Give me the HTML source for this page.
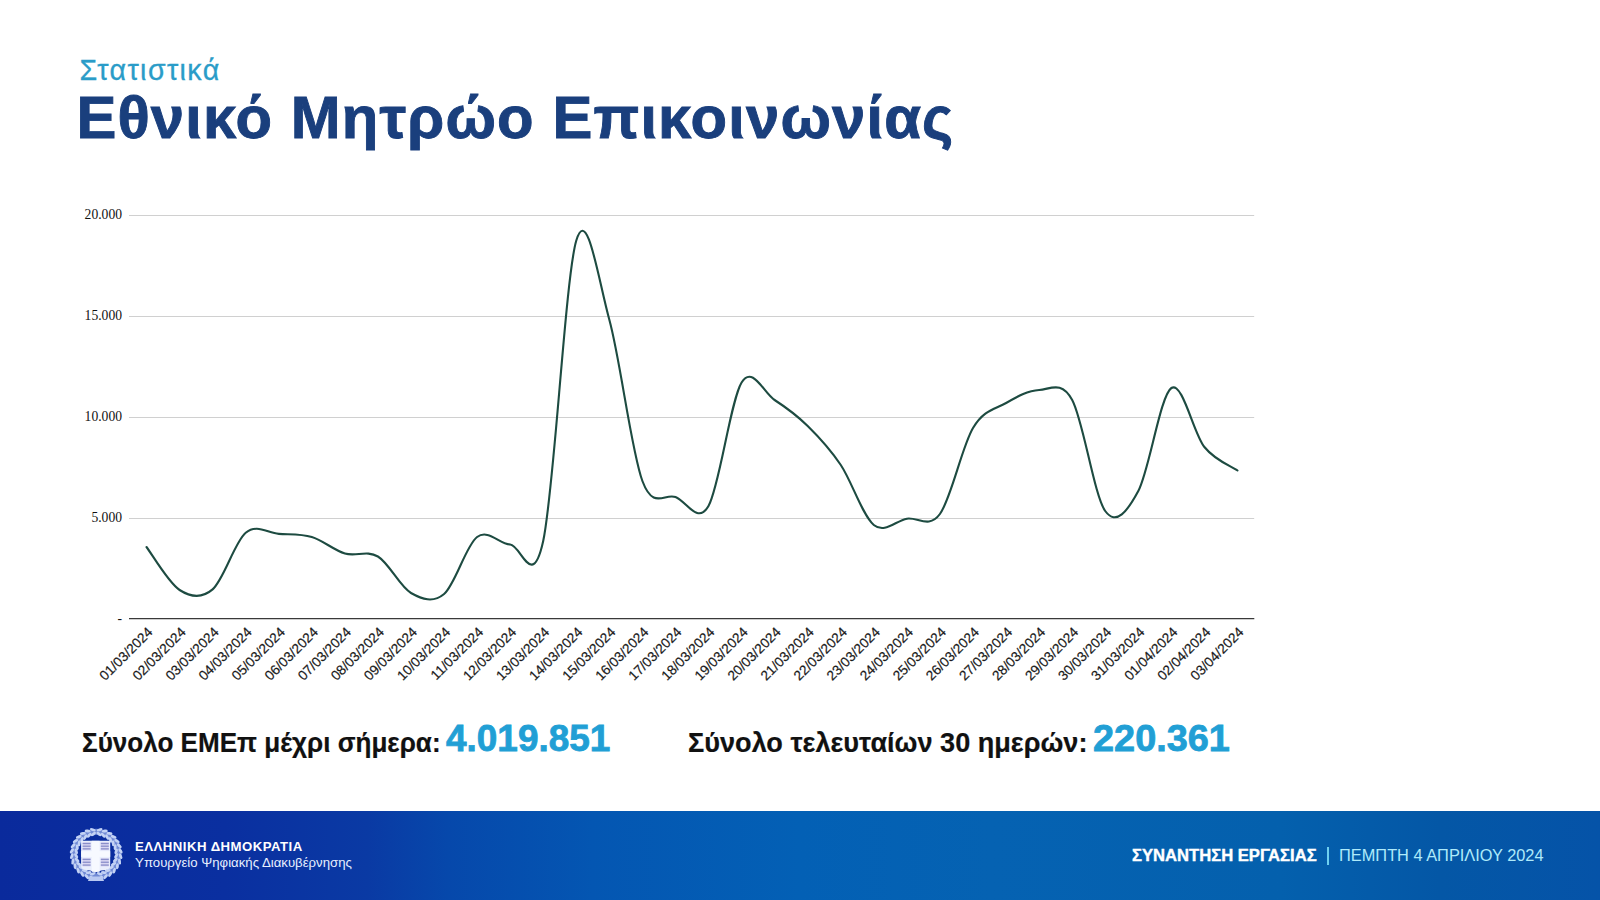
<!DOCTYPE html>
<html><head><meta charset="utf-8">
<style>
*{margin:0;padding:0;box-sizing:border-box}
html,body{width:1600px;height:900px;overflow:hidden;background:#fff}
body{position:relative;font-family:"Liberation Sans",sans-serif}
.t{position:absolute;white-space:nowrap;line-height:1;transform-origin:0 0}
#sub{color:#2a9cc8;-webkit-text-stroke:0.3px #2a9cc8}
#title{font-weight:bold;color:#1a3f7d;-webkit-text-stroke:0.9px #1a3f7d}
svg{position:absolute;left:0;top:0}
.g{stroke:#d0d0d0;stroke-width:1}
.yl{font-family:"Liberation Serif",serif;font-size:13.6px;fill:#111;text-anchor:end}
.xl text{font-size:13.7px;fill:#1a1a1a;stroke:#1a1a1a;stroke-width:0.2;text-anchor:end}
#s1,#s2{font-weight:bold;color:#111;-webkit-text-stroke:0.2px #111}
#n1,#n2{font-weight:bold;color:#219fd5;-webkit-text-stroke:0.8px #219fd5}
#foot{position:absolute;left:0;top:811px;width:1600px;height:89px;
background:linear-gradient(90deg,#0a2a9c 0%,#0a2fa0 14%,#0a3aa4 23%,#0648ab 28%,#0456b2 37%,#0360b5 50%,#0562b2 62%,#0460ad 80%,#0457a6 90%,#0553a8 100%)}
#f1{font-weight:bold;color:#fff}
#f2{color:#e8f0ff}
#f3{font-weight:bold;color:#fff;-webkit-text-stroke:0.4px #fff}
#f4{color:#aeeafa}
#sep{position:absolute;left:1327px;top:847px;width:2px;height:18px;background:#6fd0f0}
</style></head><body>
<div class="t" id="sub" style="left:79.50px;top:56.49px;font-size:28.60px;letter-spacing:1.4px;">Στατιστικά</div>
<div class="t" id="title" style="left:76.40px;top:87.88px;font-size:59.80px;letter-spacing:1.13px;">Εθνικό Μητρώο Επικοινωνίας</div>
<svg width="1600" height="810" viewBox="0 0 1600 810">
<line x1="129" y1="215.5" x2="1254.2" y2="215.5" class="g"/><text x="122" y="219.3" class="yl">20.000</text><line x1="129" y1="316.5" x2="1254.2" y2="316.5" class="g"/><text x="122" y="320.3" class="yl">15.000</text><line x1="129" y1="417.5" x2="1254.2" y2="417.5" class="g"/><text x="122" y="421.3" class="yl">10.000</text><line x1="129" y1="518.5" x2="1254.2" y2="518.5" class="g"/><text x="122" y="522.3" class="yl">5.000</text>
<line x1="129" y1="618.6" x2="1254.3" y2="618.6" stroke="#3a3a3a" stroke-width="1.2"/>
<text x="122" y="623" class="yl">-</text>
<path d="M146.5 547.0 C152.0 554.2 168.6 582.9 179.6 590.0 C190.6 597.1 201.6 598.9 212.6 589.4 C223.7 579.9 234.7 542.0 245.7 532.8 C256.7 523.5 267.7 533.2 278.8 533.9 C289.8 534.6 300.8 533.7 311.8 537.0 C322.8 540.3 333.9 550.2 344.9 553.5 C355.9 556.8 366.9 549.9 377.9 556.5 C389.0 563.1 400.0 586.8 411.0 593.0 C422.0 599.2 433.0 603.3 444.1 594.0 C455.1 584.7 466.1 545.2 477.1 537.0 C488.1 528.8 499.2 543.8 510.2 544.5 C521.2 545.2 532.2 591.7 543.2 541.0 C554.3 490.3 565.3 277.3 576.3 240.5 C587.3 203.7 598.3 279.9 609.4 320.0 C620.4 360.1 631.4 451.5 642.4 481.0 C653.4 510.5 664.5 492.8 675.5 497.0 C686.5 501.2 697.5 525.1 708.5 506.0 C719.5 486.9 730.6 400.2 741.6 382.5 C752.6 364.8 763.6 392.8 774.6 400.0 C785.7 407.2 796.7 415.2 807.7 426.0 C818.7 436.8 829.7 448.5 840.8 465.0 C851.8 481.5 862.8 516.0 873.8 525.0 C884.8 534.0 895.9 520.5 906.9 518.7 C917.9 516.9 928.9 529.1 939.9 514.0 C951.0 498.9 962.0 446.5 973.0 428.0 C984.0 409.5 995.0 409.3 1006.1 403.0 C1017.1 396.7 1028.1 390.5 1039.1 390.0 C1050.1 389.5 1061.2 379.8 1072.2 400.0 C1083.2 420.2 1094.2 495.8 1105.2 511.0 C1116.3 526.2 1127.3 511.5 1138.3 491.0 C1149.3 470.5 1160.3 395.3 1171.4 388.0 C1182.4 380.7 1193.4 433.2 1204.4 447.0 C1215.4 460.8 1232.0 466.6 1237.5 470.5" fill="none" stroke="#1d4b41" stroke-width="2.1" stroke-linecap="round"/>
<g class="xl"><text x="153.5" y="632.9" transform="rotate(-45 153.5 632.9)">01/03/2024</text>
<text x="186.6" y="632.9" transform="rotate(-45 186.6 632.9)">02/03/2024</text>
<text x="219.6" y="632.9" transform="rotate(-45 219.6 632.9)">03/03/2024</text>
<text x="252.7" y="632.9" transform="rotate(-45 252.7 632.9)">04/03/2024</text>
<text x="285.8" y="632.9" transform="rotate(-45 285.8 632.9)">05/03/2024</text>
<text x="318.8" y="632.9" transform="rotate(-45 318.8 632.9)">06/03/2024</text>
<text x="351.9" y="632.9" transform="rotate(-45 351.9 632.9)">07/03/2024</text>
<text x="384.9" y="632.9" transform="rotate(-45 384.9 632.9)">08/03/2024</text>
<text x="418.0" y="632.9" transform="rotate(-45 418.0 632.9)">09/03/2024</text>
<text x="451.1" y="632.9" transform="rotate(-45 451.1 632.9)">10/03/2024</text>
<text x="484.1" y="632.9" transform="rotate(-45 484.1 632.9)">11/03/2024</text>
<text x="517.2" y="632.9" transform="rotate(-45 517.2 632.9)">12/03/2024</text>
<text x="550.2" y="632.9" transform="rotate(-45 550.2 632.9)">13/03/2024</text>
<text x="583.3" y="632.9" transform="rotate(-45 583.3 632.9)">14/03/2024</text>
<text x="616.4" y="632.9" transform="rotate(-45 616.4 632.9)">15/03/2024</text>
<text x="649.4" y="632.9" transform="rotate(-45 649.4 632.9)">16/03/2024</text>
<text x="682.5" y="632.9" transform="rotate(-45 682.5 632.9)">17/03/2024</text>
<text x="715.5" y="632.9" transform="rotate(-45 715.5 632.9)">18/03/2024</text>
<text x="748.6" y="632.9" transform="rotate(-45 748.6 632.9)">19/03/2024</text>
<text x="781.6" y="632.9" transform="rotate(-45 781.6 632.9)">20/03/2024</text>
<text x="814.7" y="632.9" transform="rotate(-45 814.7 632.9)">21/03/2024</text>
<text x="847.8" y="632.9" transform="rotate(-45 847.8 632.9)">22/03/2024</text>
<text x="880.8" y="632.9" transform="rotate(-45 880.8 632.9)">23/03/2024</text>
<text x="913.9" y="632.9" transform="rotate(-45 913.9 632.9)">24/03/2024</text>
<text x="946.9" y="632.9" transform="rotate(-45 946.9 632.9)">25/03/2024</text>
<text x="980.0" y="632.9" transform="rotate(-45 980.0 632.9)">26/03/2024</text>
<text x="1013.1" y="632.9" transform="rotate(-45 1013.1 632.9)">27/03/2024</text>
<text x="1046.1" y="632.9" transform="rotate(-45 1046.1 632.9)">28/03/2024</text>
<text x="1079.2" y="632.9" transform="rotate(-45 1079.2 632.9)">29/03/2024</text>
<text x="1112.2" y="632.9" transform="rotate(-45 1112.2 632.9)">30/03/2024</text>
<text x="1145.3" y="632.9" transform="rotate(-45 1145.3 632.9)">31/03/2024</text>
<text x="1178.4" y="632.9" transform="rotate(-45 1178.4 632.9)">01/04/2024</text>
<text x="1211.4" y="632.9" transform="rotate(-45 1211.4 632.9)">02/04/2024</text>
<text x="1244.5" y="632.9" transform="rotate(-45 1244.5 632.9)">03/04/2024</text></g>
</svg>
<div class="t" id="s1" style="left:82.00px;top:727.73px;font-size:28.20px;transform:scaleX(0.9250);">Σύνολο ΕΜΕπ μέχρι σήμερα:</div>
<div class="t" id="n1" style="left:446.00px;top:719.59px;font-size:37.70px;transform:scaleX(0.9800);">4.019.851</div>
<div class="t" id="s2" style="left:688.10px;top:727.93px;font-size:28.20px;transform:scaleX(0.9610);">Σύνολο τελευταίων 30 ημερών:</div>
<div class="t" id="n2" style="left:1093.00px;top:719.79px;font-size:37.70px;transform:scaleX(1.0050);">220.361</div>
<div id="foot"></div>
<svg width="64" height="64" viewBox="64 822 64 64" style="left:64px;top:822px"><circle cx="96.2" cy="854.0" r="22.3" fill="none" stroke="#9db2ec" stroke-width="6" opacity="0.7"/>
<ellipse cx="91.95" cy="878.13" rx="3.0" ry="1.45" transform="rotate(218.0 91.95 878.13)" fill="#c3d2f5"/>
<ellipse cx="92.71" cy="873.79" rx="3.0" ry="1.45" transform="rotate(162.0 92.71 873.79)" fill="#c3d2f5"/>
<ellipse cx="86.84" cy="876.64" rx="3.0" ry="1.45" transform="rotate(230.5 86.84 876.64)" fill="#c3d2f5"/>
<ellipse cx="88.52" cy="872.58" rx="3.0" ry="1.45" transform="rotate(174.5 88.52 872.58)" fill="#c3d2f5"/>
<ellipse cx="82.17" cy="874.09" rx="3.0" ry="1.45" transform="rotate(242.9 82.17 874.09)" fill="#c3d2f5"/>
<ellipse cx="84.69" cy="870.48" rx="3.0" ry="1.45" transform="rotate(186.9 84.69 870.48)" fill="#c3d2f5"/>
<ellipse cx="78.17" cy="870.59" rx="3.0" ry="1.45" transform="rotate(255.4 78.17 870.59)" fill="#c3d2f5"/>
<ellipse cx="81.41" cy="867.61" rx="3.0" ry="1.45" transform="rotate(199.4 81.41 867.61)" fill="#c3d2f5"/>
<ellipse cx="75.02" cy="866.31" rx="3.0" ry="1.45" transform="rotate(267.8 75.02 866.31)" fill="#c3d2f5"/>
<ellipse cx="78.82" cy="864.10" rx="3.0" ry="1.45" transform="rotate(211.8 78.82 864.10)" fill="#c3d2f5"/>
<ellipse cx="72.86" cy="861.45" rx="3.0" ry="1.45" transform="rotate(280.3 72.86 861.45)" fill="#c3d2f5"/>
<ellipse cx="77.05" cy="860.11" rx="3.0" ry="1.45" transform="rotate(224.3 77.05 860.11)" fill="#c3d2f5"/>
<ellipse cx="71.80" cy="856.23" rx="3.0" ry="1.45" transform="rotate(292.8 71.80 856.23)" fill="#c3d2f5"/>
<ellipse cx="76.18" cy="855.83" rx="3.0" ry="1.45" transform="rotate(236.8 76.18 855.83)" fill="#c3d2f5"/>
<ellipse cx="71.89" cy="850.92" rx="3.0" ry="1.45" transform="rotate(305.2 71.89 850.92)" fill="#c3d2f5"/>
<ellipse cx="76.26" cy="851.47" rx="3.0" ry="1.45" transform="rotate(249.2 76.26 851.47)" fill="#c3d2f5"/>
<ellipse cx="73.13" cy="845.74" rx="3.0" ry="1.45" transform="rotate(317.7 73.13 845.74)" fill="#c3d2f5"/>
<ellipse cx="77.28" cy="847.23" rx="3.0" ry="1.45" transform="rotate(261.7 77.28 847.23)" fill="#c3d2f5"/>
<ellipse cx="75.46" cy="840.96" rx="3.0" ry="1.45" transform="rotate(330.2 75.46 840.96)" fill="#c3d2f5"/>
<ellipse cx="79.18" cy="843.30" rx="3.0" ry="1.45" transform="rotate(274.2 79.18 843.30)" fill="#c3d2f5"/>
<ellipse cx="78.76" cy="836.79" rx="3.0" ry="1.45" transform="rotate(342.6 78.76 836.79)" fill="#c3d2f5"/>
<ellipse cx="81.89" cy="839.88" rx="3.0" ry="1.45" transform="rotate(286.6 81.89 839.88)" fill="#c3d2f5"/>
<ellipse cx="82.88" cy="833.43" rx="3.0" ry="1.45" transform="rotate(355.1 82.88 833.43)" fill="#c3d2f5"/>
<ellipse cx="85.28" cy="837.13" rx="3.0" ry="1.45" transform="rotate(299.1 85.28 837.13)" fill="#c3d2f5"/>
<ellipse cx="87.64" cy="831.05" rx="3.0" ry="1.45" transform="rotate(367.5 87.64 831.05)" fill="#c3d2f5"/>
<ellipse cx="89.17" cy="835.17" rx="3.0" ry="1.45" transform="rotate(311.5 89.17 835.17)" fill="#c3d2f5"/>
<ellipse cx="92.79" cy="829.74" rx="3.0" ry="1.45" transform="rotate(380.0 92.79 829.74)" fill="#c3d2f5"/>
<ellipse cx="93.40" cy="834.10" rx="3.0" ry="1.45" transform="rotate(324.0 93.40 834.10)" fill="#c3d2f5"/>
<ellipse cx="100.45" cy="878.13" rx="3.0" ry="1.45" transform="rotate(142.0 100.45 878.13)" fill="#c3d2f5"/>
<ellipse cx="99.69" cy="873.79" rx="3.0" ry="1.45" transform="rotate(198.0 99.69 873.79)" fill="#c3d2f5"/>
<ellipse cx="105.56" cy="876.64" rx="3.0" ry="1.45" transform="rotate(129.5 105.56 876.64)" fill="#c3d2f5"/>
<ellipse cx="103.88" cy="872.58" rx="3.0" ry="1.45" transform="rotate(185.5 103.88 872.58)" fill="#c3d2f5"/>
<ellipse cx="110.23" cy="874.09" rx="3.0" ry="1.45" transform="rotate(117.1 110.23 874.09)" fill="#c3d2f5"/>
<ellipse cx="107.71" cy="870.48" rx="3.0" ry="1.45" transform="rotate(173.1 107.71 870.48)" fill="#c3d2f5"/>
<ellipse cx="114.23" cy="870.59" rx="3.0" ry="1.45" transform="rotate(104.6 114.23 870.59)" fill="#c3d2f5"/>
<ellipse cx="110.99" cy="867.61" rx="3.0" ry="1.45" transform="rotate(160.6 110.99 867.61)" fill="#c3d2f5"/>
<ellipse cx="117.38" cy="866.31" rx="3.0" ry="1.45" transform="rotate(92.2 117.38 866.31)" fill="#c3d2f5"/>
<ellipse cx="113.58" cy="864.10" rx="3.0" ry="1.45" transform="rotate(148.2 113.58 864.10)" fill="#c3d2f5"/>
<ellipse cx="119.54" cy="861.45" rx="3.0" ry="1.45" transform="rotate(79.7 119.54 861.45)" fill="#c3d2f5"/>
<ellipse cx="115.35" cy="860.11" rx="3.0" ry="1.45" transform="rotate(135.7 115.35 860.11)" fill="#c3d2f5"/>
<ellipse cx="120.60" cy="856.23" rx="3.0" ry="1.45" transform="rotate(67.2 120.60 856.23)" fill="#c3d2f5"/>
<ellipse cx="116.22" cy="855.83" rx="3.0" ry="1.45" transform="rotate(123.2 116.22 855.83)" fill="#c3d2f5"/>
<ellipse cx="120.51" cy="850.92" rx="3.0" ry="1.45" transform="rotate(54.8 120.51 850.92)" fill="#c3d2f5"/>
<ellipse cx="116.14" cy="851.47" rx="3.0" ry="1.45" transform="rotate(110.8 116.14 851.47)" fill="#c3d2f5"/>
<ellipse cx="119.27" cy="845.74" rx="3.0" ry="1.45" transform="rotate(42.3 119.27 845.74)" fill="#c3d2f5"/>
<ellipse cx="115.12" cy="847.23" rx="3.0" ry="1.45" transform="rotate(98.3 115.12 847.23)" fill="#c3d2f5"/>
<ellipse cx="116.94" cy="840.96" rx="3.0" ry="1.45" transform="rotate(29.8 116.94 840.96)" fill="#c3d2f5"/>
<ellipse cx="113.22" cy="843.30" rx="3.0" ry="1.45" transform="rotate(85.8 113.22 843.30)" fill="#c3d2f5"/>
<ellipse cx="113.64" cy="836.79" rx="3.0" ry="1.45" transform="rotate(17.4 113.64 836.79)" fill="#c3d2f5"/>
<ellipse cx="110.51" cy="839.88" rx="3.0" ry="1.45" transform="rotate(73.4 110.51 839.88)" fill="#c3d2f5"/>
<ellipse cx="109.52" cy="833.43" rx="3.0" ry="1.45" transform="rotate(4.9 109.52 833.43)" fill="#c3d2f5"/>
<ellipse cx="107.12" cy="837.13" rx="3.0" ry="1.45" transform="rotate(60.9 107.12 837.13)" fill="#c3d2f5"/>
<ellipse cx="104.76" cy="831.05" rx="3.0" ry="1.45" transform="rotate(-7.5 104.76 831.05)" fill="#c3d2f5"/>
<ellipse cx="103.23" cy="835.17" rx="3.0" ry="1.45" transform="rotate(48.5 103.23 835.17)" fill="#c3d2f5"/>
<ellipse cx="99.61" cy="829.74" rx="3.0" ry="1.45" transform="rotate(-20.0 99.61 829.74)" fill="#c3d2f5"/>
<ellipse cx="99.00" cy="834.10" rx="3.0" ry="1.45" transform="rotate(36.0 99.00 834.10)" fill="#c3d2f5"/>
<path d="M89.5 876.5 L102.5 876.5 L104 881 L88 881 Z" fill="#b9c9f2"/>
<path d="M81.1 840.8 H110.2 V866.5 Q110.2 869.5 104 870.2 Q98 870.8 95.65 872.6 Q93.3 870.8 87.3 870.2 Q81.1 869.5 81.1 866.5 Z" fill="#e9eefc"/>
<rect x="82.6" y="842.20" width="8.0" height="8.00" fill="#d9d6f2"/>
<rect x="82.6" y="842.88" width="8.0" height="1.3" fill="#8a8fca"/>
<rect x="82.6" y="845.55" width="8.0" height="1.3" fill="#8a8fca"/>
<rect x="82.6" y="848.22" width="8.0" height="1.3" fill="#8a8fca"/>
<rect x="82.6" y="858.00" width="8.0" height="8.50" fill="#d9d6f2"/>
<rect x="82.6" y="858.77" width="8.0" height="1.3" fill="#8a8fca"/>
<rect x="82.6" y="861.60" width="8.0" height="1.3" fill="#8a8fca"/>
<rect x="82.6" y="864.43" width="8.0" height="1.3" fill="#8a8fca"/>
<rect x="100.8" y="842.20" width="8.0" height="8.00" fill="#d9d6f2"/>
<rect x="100.8" y="842.88" width="8.0" height="1.3" fill="#8a8fca"/>
<rect x="100.8" y="845.55" width="8.0" height="1.3" fill="#8a8fca"/>
<rect x="100.8" y="848.22" width="8.0" height="1.3" fill="#8a8fca"/>
<rect x="100.8" y="858.00" width="8.0" height="8.50" fill="#d9d6f2"/>
<rect x="100.8" y="858.77" width="8.0" height="1.3" fill="#8a8fca"/>
<rect x="100.8" y="861.60" width="8.0" height="1.3" fill="#8a8fca"/>
<rect x="100.8" y="864.43" width="8.0" height="1.3" fill="#8a8fca"/>
<rect x="91.7" y="840.8" width="7.9" height="31" fill="#f7f9ff"/>
<rect x="81.1" y="851.2" width="29.1" height="5.7" fill="#f7f9ff"/>
</svg>
<div class="t" id="f1" style="left:135.00px;top:839.63px;font-size:13.20px;letter-spacing:0.48px;">ΕΛΛΗΝΙΚΗ ΔΗΜΟΚΡΑΤΙΑ</div>
<div class="t" id="f2" style="left:135.10px;top:855.63px;font-size:13.20px;">Υπουργείο Ψηφιακής Διακυβέρνησης</div>
<div class="t" id="f3" style="left:1132.20px;top:847.07px;font-size:17.40px;transform:scaleX(0.9550);">ΣΥΝΑΝΤΗΣΗ ΕΡΓΑΣΙΑΣ</div>
<div class="t" id="f4" style="left:1339.00px;top:847.27px;font-size:17.40px;transform:scaleX(0.9400);">ΠΕΜΠΤΗ 4 ΑΠΡΙΛΙΟΥ 2024</div>
<div id="sep"></div>
</body></html>
